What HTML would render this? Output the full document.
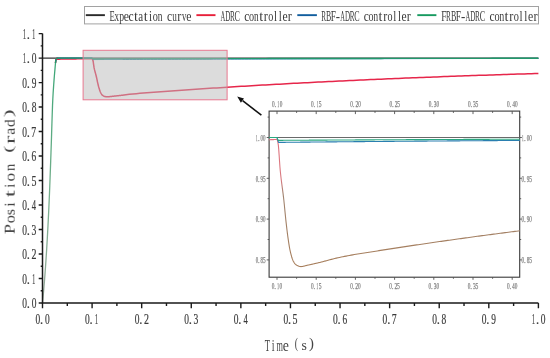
<!DOCTYPE html>
<html><head><meta charset="utf-8"><style>
html,body{margin:0;padding:0;background:#fff;}
svg{display:block;}
.tx{filter:grayscale(1);}
text{font-family:"Liberation Mono", monospace;}
</style></head><body>
<svg width="550" height="358" viewBox="0 0 550 358">
<defs><linearGradient id="gr" gradientUnits="userSpaceOnUse" x1="0" y1="58" x2="0" y2="303">
<stop offset="0" stop-color="#3aa676"/><stop offset="0.5" stop-color="#70ae8a"/><stop offset="1" stop-color="#9aaa9c"/></linearGradient><linearGradient id="rg" gradientUnits="userSpaceOnUse" x1="0" y1="137" x2="0" y2="280">
<stop offset="0" stop-color="#e0707e"/><stop offset="0.30" stop-color="#d87a80"/><stop offset="0.40" stop-color="#a08470"/><stop offset="1" stop-color="#a87c56"/></linearGradient></defs>
<rect width="550" height="358" fill="#fff"/>
<!-- legend -->
<rect x="84.5" y="6.5" width="454" height="17.4" fill="#fff" stroke="#a2a2a2" stroke-width="1"/>
<g stroke-width="1.9" fill="none">
<path d="M85.8,15.15H104.9" stroke="#2a2a2a"/>
<path d="M196.4,15.15H215.5" stroke="#e8203a"/>
<path d="M297.3,15.15H316.9" stroke="#125e9e"/>
<path d="M417.3,15.15H436.4" stroke="#179a60"/>
</g>
<g fill="#3a3a3a" class="tx">
<text x="109.42" y="20.60" font-size="14.50" textLength="5.35" lengthAdjust="spacingAndGlyphs" style='font-family:"Liberation Serif", serif'>E</text><text x="114.57" y="20.60" font-size="14.50" textLength="4.51" lengthAdjust="spacingAndGlyphs" style='font-family:"Liberation Serif", serif'>x</text><text x="119.30" y="20.60" font-size="14.50" textLength="4.86" lengthAdjust="spacingAndGlyphs" style='font-family:"Liberation Serif", serif'>p</text><text x="123.80" y="20.60" font-size="14.50" textLength="5.19" lengthAdjust="spacingAndGlyphs" style='font-family:"Liberation Serif", serif'>e</text><text x="128.62" y="20.60" font-size="14.50" textLength="5.12" lengthAdjust="spacingAndGlyphs" style='font-family:"Liberation Serif", serif'>c</text><text x="134.02" y="20.60" font-size="14.50" textLength="3.97" lengthAdjust="spacingAndGlyphs" style='font-family:"Liberation Serif", serif'>t</text><text x="138.29" y="20.60" font-size="14.50" textLength="4.86" lengthAdjust="spacingAndGlyphs" style='font-family:"Liberation Serif", serif'>a</text><text x="143.63" y="20.60" font-size="14.50" textLength="3.97" lengthAdjust="spacingAndGlyphs" style='font-family:"Liberation Serif", serif'>t</text><text x="148.89" y="20.60" font-size="14.50" textLength="3.09" lengthAdjust="spacingAndGlyphs" style='font-family:"Liberation Serif", serif'>i</text><text x="152.70" y="20.60" font-size="14.50" textLength="5.10" lengthAdjust="spacingAndGlyphs" style='font-family:"Liberation Serif", serif'>o</text><text x="157.68" y="20.60" font-size="14.50" textLength="4.68" lengthAdjust="spacingAndGlyphs" style='font-family:"Liberation Serif", serif'>n</text><text x="167.07" y="20.60" font-size="14.50" textLength="5.12" lengthAdjust="spacingAndGlyphs" style='font-family:"Liberation Serif", serif'>c</text><text x="172.20" y="20.60" font-size="14.50" textLength="4.60" lengthAdjust="spacingAndGlyphs" style='font-family:"Liberation Serif", serif'>u</text><text x="177.16" y="20.60" font-size="14.50" textLength="4.10" lengthAdjust="spacingAndGlyphs" style='font-family:"Liberation Serif", serif'>r</text><text x="181.93" y="20.60" font-size="14.50" textLength="4.33" lengthAdjust="spacingAndGlyphs" style='font-family:"Liberation Serif", serif'>v</text><text x="186.28" y="20.60" font-size="14.50" textLength="5.19" lengthAdjust="spacingAndGlyphs" style='font-family:"Liberation Serif", serif'>e</text>
<text x="220.51" y="20.60" font-size="14.50" textLength="4.75" lengthAdjust="spacingAndGlyphs" style='font-family:"Liberation Serif", serif'>A</text><text x="225.15" y="20.60" font-size="14.50" textLength="5.13" lengthAdjust="spacingAndGlyphs" style='font-family:"Liberation Serif", serif'>D</text><text x="229.92" y="20.60" font-size="14.50" textLength="4.86" lengthAdjust="spacingAndGlyphs" style='font-family:"Liberation Serif", serif'>R</text><text x="234.58" y="20.60" font-size="14.50" textLength="5.42" lengthAdjust="spacingAndGlyphs" style='font-family:"Liberation Serif", serif'>C</text><text x="244.20" y="20.60" font-size="14.50" textLength="5.09" lengthAdjust="spacingAndGlyphs" style='font-family:"Liberation Serif", serif'>c</text><text x="249.03" y="20.60" font-size="14.50" textLength="5.08" lengthAdjust="spacingAndGlyphs" style='font-family:"Liberation Serif", serif'>o</text><text x="253.99" y="20.60" font-size="14.50" textLength="4.66" lengthAdjust="spacingAndGlyphs" style='font-family:"Liberation Serif", serif'>n</text><text x="259.13" y="20.60" font-size="14.50" textLength="3.95" lengthAdjust="spacingAndGlyphs" style='font-family:"Liberation Serif", serif'>t</text><text x="263.80" y="20.60" font-size="14.50" textLength="4.08" lengthAdjust="spacingAndGlyphs" style='font-family:"Liberation Serif", serif'>r</text><text x="268.15" y="20.60" font-size="14.50" textLength="5.08" lengthAdjust="spacingAndGlyphs" style='font-family:"Liberation Serif", serif'>o</text><text x="273.93" y="20.60" font-size="14.50" textLength="3.07" lengthAdjust="spacingAndGlyphs" style='font-family:"Liberation Serif", serif'>l</text><text x="278.71" y="20.60" font-size="14.50" textLength="3.07" lengthAdjust="spacingAndGlyphs" style='font-family:"Liberation Serif", serif'>l</text><text x="282.42" y="20.60" font-size="14.50" textLength="5.16" lengthAdjust="spacingAndGlyphs" style='font-family:"Liberation Serif", serif'>e</text><text x="287.70" y="20.60" font-size="14.50" textLength="4.08" lengthAdjust="spacingAndGlyphs" style='font-family:"Liberation Serif", serif'>r</text>
<text x="321.26" y="20.60" font-size="14.50" textLength="4.81" lengthAdjust="spacingAndGlyphs" style='font-family:"Liberation Serif", serif'>R</text><text x="325.98" y="20.60" font-size="14.50" textLength="5.19" lengthAdjust="spacingAndGlyphs" style='font-family:"Liberation Serif", serif'>B</text><text x="330.66" y="20.60" font-size="14.50" textLength="5.20" lengthAdjust="spacingAndGlyphs" style='font-family:"Liberation Serif", serif'>F</text><text x="335.83" y="20.60" font-size="14.50" textLength="4.25" lengthAdjust="spacingAndGlyphs" style='font-family:"Liberation Serif", serif'>-</text><text x="340.33" y="20.60" font-size="14.50" textLength="4.70" lengthAdjust="spacingAndGlyphs" style='font-family:"Liberation Serif", serif'>A</text><text x="344.93" y="20.60" font-size="14.50" textLength="5.07" lengthAdjust="spacingAndGlyphs" style='font-family:"Liberation Serif", serif'>D</text><text x="349.65" y="20.60" font-size="14.50" textLength="4.81" lengthAdjust="spacingAndGlyphs" style='font-family:"Liberation Serif", serif'>R</text><text x="354.26" y="20.60" font-size="14.50" textLength="5.36" lengthAdjust="spacingAndGlyphs" style='font-family:"Liberation Serif", serif'>C</text><text x="363.79" y="20.60" font-size="14.50" textLength="5.04" lengthAdjust="spacingAndGlyphs" style='font-family:"Liberation Serif", serif'>c</text><text x="368.57" y="20.60" font-size="14.50" textLength="5.02" lengthAdjust="spacingAndGlyphs" style='font-family:"Liberation Serif", serif'>o</text><text x="373.47" y="20.60" font-size="14.50" textLength="4.61" lengthAdjust="spacingAndGlyphs" style='font-family:"Liberation Serif", serif'>n</text><text x="378.56" y="20.60" font-size="14.50" textLength="3.91" lengthAdjust="spacingAndGlyphs" style='font-family:"Liberation Serif", serif'>t</text><text x="383.19" y="20.60" font-size="14.50" textLength="4.04" lengthAdjust="spacingAndGlyphs" style='font-family:"Liberation Serif", serif'>r</text><text x="387.50" y="20.60" font-size="14.50" textLength="5.02" lengthAdjust="spacingAndGlyphs" style='font-family:"Liberation Serif", serif'>o</text><text x="393.22" y="20.60" font-size="14.50" textLength="3.04" lengthAdjust="spacingAndGlyphs" style='font-family:"Liberation Serif", serif'>l</text><text x="397.95" y="20.60" font-size="14.50" textLength="3.04" lengthAdjust="spacingAndGlyphs" style='font-family:"Liberation Serif", serif'>l</text><text x="401.62" y="20.60" font-size="14.50" textLength="5.11" lengthAdjust="spacingAndGlyphs" style='font-family:"Liberation Serif", serif'>e</text><text x="406.85" y="20.60" font-size="14.50" textLength="4.04" lengthAdjust="spacingAndGlyphs" style='font-family:"Liberation Serif", serif'>r</text>
<text x="441.20" y="20.60" font-size="14.50" textLength="5.30" lengthAdjust="spacingAndGlyphs" style='font-family:"Liberation Serif", serif'>F</text><text x="446.09" y="20.60" font-size="14.50" textLength="4.91" lengthAdjust="spacingAndGlyphs" style='font-family:"Liberation Serif", serif'>R</text><text x="450.90" y="20.60" font-size="14.50" textLength="5.30" lengthAdjust="spacingAndGlyphs" style='font-family:"Liberation Serif", serif'>B</text><text x="455.69" y="20.60" font-size="14.50" textLength="5.30" lengthAdjust="spacingAndGlyphs" style='font-family:"Liberation Serif", serif'>F</text><text x="460.96" y="20.60" font-size="14.50" textLength="4.33" lengthAdjust="spacingAndGlyphs" style='font-family:"Liberation Serif", serif'>-</text><text x="465.56" y="20.60" font-size="14.50" textLength="4.80" lengthAdjust="spacingAndGlyphs" style='font-family:"Liberation Serif", serif'>A</text><text x="470.25" y="20.60" font-size="14.50" textLength="5.18" lengthAdjust="spacingAndGlyphs" style='font-family:"Liberation Serif", serif'>D</text><text x="475.07" y="20.60" font-size="14.50" textLength="4.91" lengthAdjust="spacingAndGlyphs" style='font-family:"Liberation Serif", serif'>R</text><text x="479.78" y="20.60" font-size="14.50" textLength="5.47" lengthAdjust="spacingAndGlyphs" style='font-family:"Liberation Serif", serif'>C</text><text x="489.50" y="20.60" font-size="14.50" textLength="5.15" lengthAdjust="spacingAndGlyphs" style='font-family:"Liberation Serif", serif'>c</text><text x="494.38" y="20.60" font-size="14.50" textLength="5.13" lengthAdjust="spacingAndGlyphs" style='font-family:"Liberation Serif", serif'>o</text><text x="499.39" y="20.60" font-size="14.50" textLength="4.71" lengthAdjust="spacingAndGlyphs" style='font-family:"Liberation Serif", serif'>n</text><text x="504.58" y="20.60" font-size="14.50" textLength="3.99" lengthAdjust="spacingAndGlyphs" style='font-family:"Liberation Serif", serif'>t</text><text x="509.30" y="20.60" font-size="14.50" textLength="4.12" lengthAdjust="spacingAndGlyphs" style='font-family:"Liberation Serif", serif'>r</text><text x="513.70" y="20.60" font-size="14.50" textLength="5.13" lengthAdjust="spacingAndGlyphs" style='font-family:"Liberation Serif", serif'>o</text><text x="519.54" y="20.60" font-size="14.50" textLength="3.10" lengthAdjust="spacingAndGlyphs" style='font-family:"Liberation Serif", serif'>l</text><text x="524.37" y="20.60" font-size="14.50" textLength="3.10" lengthAdjust="spacingAndGlyphs" style='font-family:"Liberation Serif", serif'>l</text><text x="528.12" y="20.60" font-size="14.50" textLength="5.21" lengthAdjust="spacingAndGlyphs" style='font-family:"Liberation Serif", serif'>e</text><text x="533.45" y="20.60" font-size="14.50" textLength="4.12" lengthAdjust="spacingAndGlyphs" style='font-family:"Liberation Serif", serif'>r</text>
</g>
<!-- curves main -->
<g fill="none" stroke-linejoin="round">
<path d="M42.5,58.10H538.40" stroke="#333" stroke-width="1.4"/>
<polyline points="42.50,302.95 42.80,299.90 43.11,296.70 43.41,293.37 43.71,289.90 44.02,286.31 44.32,282.61 44.63,278.79 44.93,274.85 45.23,270.77 45.54,266.55 45.84,262.15 46.14,257.58 46.45,252.83 46.75,247.86 47.05,242.71 47.36,237.34 47.66,231.77 47.97,225.99 48.27,219.98 48.57,213.74 48.88,207.27 49.18,200.55 49.48,193.43 49.79,185.78 50.09,177.73 50.39,169.39 50.70,160.87 51.00,152.31 51.30,143.43 51.61,133.71 51.91,123.73 52.22,114.16 52.52,105.64 52.82,98.82 53.13,93.33 53.43,88.59 53.73,84.27 54.04,80.15 54.34,76.32 54.64,72.74 54.95,69.36 55.25,65.75 55.56,62.39 55.86,60.22 56.16,59.27 56.47,58.64 56.77,58.33 57.07,58.17 57.38,58.10" stroke="url(#gr)" stroke-width="1.3"/>
<polyline points="55.49,63.02 55.76,60.73 56.03,59.65 56.30,58.95 56.57,58.50 56.84,58.29 57.11,58.15 57.38,59.20 57.43,59.20 59.25,59.14 61.08,59.09 62.90,59.04 64.72,59.00 66.55,58.97 68.37,58.94 70.20,58.93 72.02,58.91 73.85,58.90 75.67,58.88 77.49,58.87 79.32,58.86 81.14,58.84 82.97,58.83 84.79,58.80 86.62,58.77 88.44,58.74 90.27,58.72 92.09,58.71 92.19,58.75 92.56,59.37 92.94,60.41 93.32,62.49 93.69,65.20 94.07,67.65 94.44,69.40 94.82,70.92 95.19,72.31 95.57,73.64 95.94,75.01 96.32,76.49 96.69,78.16 97.07,79.97 97.44,81.78 97.82,83.45 98.20,85.02 98.57,86.52 98.95,87.88 99.32,89.10 99.70,90.26 100.07,91.32 100.45,92.23 100.82,92.95 101.20,93.62 101.57,94.21 101.95,94.73 102.32,95.15 102.70,95.46 103.08,95.73 103.45,95.96 103.83,96.15 104.20,96.31 104.58,96.43 104.95,96.52 105.33,96.60 105.70,96.68 106.08,96.74 106.45,96.79 106.83,96.82 107.20,96.84 107.58,96.83 107.96,96.81 108.33,96.78 108.71,96.75 109.08,96.70 109.46,96.66 109.83,96.61 110.21,96.56 110.58,96.51 110.96,96.47 111.33,96.43 111.71,96.39 112.08,96.35 112.46,96.31 112.83,96.27 113.21,96.23 113.59,96.19 113.96,96.16 114.34,96.12 114.71,96.08 115.09,96.04 115.46,96.00 115.84,95.96 116.21,95.92 116.59,95.87 116.96,95.83 117.34,95.79 117.71,95.75 118.09,95.71 118.47,95.67 118.84,95.62 119.22,95.58 119.59,95.54 119.97,95.49 120.34,95.45 120.72,95.40 121.09,95.36 121.47,95.31 121.84,95.26 122.34,95.20 125.84,94.75 129.33,94.33 132.83,93.97 136.33,93.64 139.82,93.33 143.32,93.04 146.81,92.77 150.31,92.52 153.81,92.26 157.30,92.00 160.80,91.74 164.30,91.48 167.79,91.23 171.29,90.98 174.78,90.73 178.28,90.48 181.78,90.23 185.27,89.99 188.77,89.75 192.27,89.51 195.76,89.27 199.26,89.04 202.75,88.80 206.25,88.57 209.75,88.34 213.24,88.11 216.74,87.89 220.24,87.66 223.73,87.44 227.23,87.22 230.73,87.00 234.22,86.78 237.72,86.57 241.21,86.36 244.71,86.15 248.21,85.94 251.70,85.73 255.20,85.52 258.70,85.32 262.19,85.12 265.69,84.91 269.18,84.72 272.68,84.52 276.18,84.32 279.67,84.13 283.17,83.94 286.67,83.74 290.16,83.56 293.66,83.37 297.16,83.18 300.65,83.00 304.15,82.81 307.64,82.63 311.14,82.45 314.64,82.27 318.13,82.10 321.63,81.92 325.13,81.75 328.62,81.57 332.12,81.40 335.61,81.23 339.11,81.06 342.61,80.90 346.10,80.73 349.60,80.57 353.10,80.41 356.59,80.24 360.09,80.08 363.58,79.93 367.08,79.77 370.58,79.61 374.07,79.46 377.57,79.30 381.07,79.15 384.56,79.00 388.06,78.85 391.56,78.70 395.05,78.56 398.55,78.41 402.04,78.27 405.54,78.12 409.04,77.98 412.53,77.84 416.03,77.70 419.53,77.56 423.02,77.42 426.52,77.29 430.01,77.15 433.51,77.02 437.01,76.88 440.50,76.75 444.00,76.62 447.50,76.49 450.99,76.36 454.49,76.24 457.99,76.11 461.48,75.98 464.98,75.86 468.47,75.74 471.97,75.61 475.47,75.49 478.96,75.37 482.46,75.25 485.96,75.14 489.45,75.02 492.95,74.90 496.44,74.79 499.94,74.67 503.44,74.56 506.93,74.45 510.43,74.34 513.93,74.22 517.42,74.12 520.92,74.01 524.41,73.90 527.91,73.79 531.41,73.69 534.90,73.58 538.40,73.48" stroke="#e6264a" stroke-width="1.5"/>
<polyline points="55.49,63.02 55.76,60.73 56.03,59.65 56.30,58.95 56.57,58.50 56.84,58.29 57.11,58.15 57.38,58.10 57.43,58.10 59.25,58.10 61.08,58.10 62.90,58.10 64.72,58.10 66.55,58.10 68.37,58.10 70.20,58.10 72.02,58.10 73.85,58.10 75.67,58.10 77.49,58.10 79.32,58.10 81.14,58.10 82.97,58.10 84.79,58.10 86.62,58.10 88.44,58.10 90.27,58.10 92.09,58.10 92.19,58.25 92.56,58.80 92.94,59.36 93.32,59.57 93.69,59.57 94.07,59.56 94.44,59.56 94.82,59.56 95.19,59.56 95.57,59.56 95.94,59.56 96.32,59.55 96.69,59.55 97.07,59.55 97.44,59.55 97.82,59.55 98.20,59.54 98.57,59.54 98.95,59.54 99.32,59.54 99.70,59.54 100.07,59.53 100.45,59.53 100.82,59.53 101.20,59.53 101.57,59.53 101.95,59.53 102.32,59.52 102.70,59.52 103.08,59.52 103.45,59.52 103.83,59.52 104.20,59.52 104.58,59.51 104.95,59.51 105.33,59.51 105.70,59.51 106.08,59.51 106.45,59.50 106.83,59.50 107.20,59.50 107.58,59.50 107.96,59.50 108.33,59.50 108.71,59.49 109.08,59.49 109.46,59.49 109.83,59.49 110.21,59.49 110.58,59.49 110.96,59.48 111.33,59.48 111.71,59.48 112.08,59.48 112.46,59.48 112.83,59.47 113.21,59.47 113.59,59.47 113.96,59.47 114.34,59.47 114.71,59.47 115.09,59.46 115.46,59.46 115.84,59.46 116.21,59.46 116.59,59.46 116.96,59.46 117.34,59.45 117.71,59.45 118.09,59.45 118.47,59.45 118.84,59.45 119.22,59.45 119.59,59.44 119.97,59.44 120.34,59.44 120.72,59.44 121.09,59.44 121.47,59.44 121.84,59.43 122.34,59.43 125.84,59.42 129.33,59.40 132.83,59.39 136.33,59.37 139.82,59.36 143.32,59.34 146.81,59.33 150.31,59.31 153.81,59.30 157.30,59.28 160.80,59.27 164.30,59.26 167.79,59.24 171.29,59.23 174.78,59.22 178.28,59.20 181.78,59.19 185.27,59.18 188.77,59.17 192.27,59.15 195.76,59.14 199.26,59.13 202.75,59.12 206.25,59.10 209.75,59.09 213.24,59.08 216.74,59.07 220.24,59.06 223.73,59.05 227.23,59.04 230.73,59.03 234.22,59.01 237.72,59.00 241.21,58.99 244.71,58.98 248.21,58.97 251.70,58.96 255.20,58.95 258.70,58.94 262.19,58.93 265.69,58.92 269.18,58.91 272.68,58.90 276.18,58.89 279.67,58.88 283.17,58.88 286.67,58.87 290.16,58.86 293.66,58.85 297.16,58.84 300.65,58.83 304.15,58.82 307.64,58.81 311.14,58.81 314.64,58.80 318.13,58.79 321.63,58.78 325.13,58.77 328.62,58.77 332.12,58.76 335.61,58.75 339.11,58.74 342.61,58.74 346.10,58.73 349.60,58.72 353.10,58.71 356.59,58.71 360.09,58.70 363.58,58.69 367.08,58.68 370.58,58.68 374.07,58.67 377.57,58.66 381.07,58.66 384.56,58.65 388.06,58.65 391.56,58.64 395.05,58.63 398.55,58.63 402.04,58.62 405.54,58.61 409.04,58.61 412.53,58.60 416.03,58.60 419.53,58.59 423.02,58.58 426.52,58.58 430.01,58.57 433.51,58.57 437.01,58.56 440.50,58.56 444.00,58.55 447.50,58.55 450.99,58.54 454.49,58.54 457.99,58.53 461.48,58.53 464.98,58.52 468.47,58.52 471.97,58.51 475.47,58.51 478.96,58.50 482.46,58.50 485.96,58.49 489.45,58.49 492.95,58.48 496.44,58.48 499.94,58.47 503.44,58.47 506.93,58.47 510.43,58.46 513.93,58.46 517.42,58.45 520.92,58.45 524.41,58.44 527.91,58.44 531.41,58.44 534.90,58.43 538.40,58.43" stroke="#1662b8" stroke-width="1.0"/>
<polyline points="55.49,63.02 55.76,60.73 56.03,59.65 56.30,58.95 56.57,58.50 56.84,58.29 57.11,58.15 57.38,58.10 57.43,58.10 59.25,58.10 61.08,58.10 62.90,58.10 64.72,58.10 66.55,58.10 68.37,58.10 70.20,58.10 72.02,58.10 73.85,58.10 75.67,58.10 77.49,58.10 79.32,58.10 81.14,58.10 82.97,58.10 84.79,58.10 86.62,58.10 88.44,58.10 90.27,58.10 92.09,58.10 92.19,58.21 92.56,58.65 92.94,58.96 93.32,58.96 93.69,58.95 94.07,58.95 94.44,58.95 94.82,58.95 95.19,58.95 95.57,58.95 95.94,58.95 96.32,58.95 96.69,58.95 97.07,58.94 97.44,58.94 97.82,58.94 98.20,58.94 98.57,58.94 98.95,58.94 99.32,58.94 99.70,58.94 100.07,58.94 100.45,58.94 100.82,58.93 101.20,58.93 101.57,58.93 101.95,58.93 102.32,58.93 102.70,58.93 103.08,58.93 103.45,58.93 103.83,58.93 104.20,58.92 104.58,58.92 104.95,58.92 105.33,58.92 105.70,58.92 106.08,58.92 106.45,58.92 106.83,58.92 107.20,58.92 107.58,58.92 107.96,58.91 108.33,58.91 108.71,58.91 109.08,58.91 109.46,58.91 109.83,58.91 110.21,58.91 110.58,58.91 110.96,58.91 111.33,58.91 111.71,58.90 112.08,58.90 112.46,58.90 112.83,58.90 113.21,58.90 113.59,58.90 113.96,58.90 114.34,58.90 114.71,58.90 115.09,58.90 115.46,58.89 115.84,58.89 116.21,58.89 116.59,58.89 116.96,58.89 117.34,58.89 117.71,58.89 118.09,58.89 118.47,58.89 118.84,58.89 119.22,58.88 119.59,58.88 119.97,58.88 120.34,58.88 120.72,58.88 121.09,58.88 121.47,58.88 121.84,58.88 122.34,58.88 125.84,58.87 129.33,58.86 132.83,58.85 136.33,58.84 139.82,58.83 143.32,58.82 146.81,58.81 150.31,58.81 153.81,58.80 157.30,58.79 160.80,58.78 164.30,58.77 167.79,58.77 171.29,58.76 174.78,58.75 178.28,58.74 181.78,58.74 185.27,58.73 188.77,58.72 192.27,58.71 195.76,58.71 199.26,58.70 202.75,58.69 206.25,58.69 209.75,58.68 213.24,58.67 216.74,58.67 220.24,58.66 223.73,58.65 227.23,58.65 230.73,58.64 234.22,58.63 237.72,58.63 241.21,58.62 244.71,58.61 248.21,58.61 251.70,58.60 255.20,58.60 258.70,58.59 262.19,58.59 265.69,58.58 269.18,58.57 272.68,58.57 276.18,58.56 279.67,58.56 283.17,58.55 286.67,58.55 290.16,58.54 293.66,58.54 297.16,58.53 300.65,58.53 304.15,58.52 307.64,58.52 311.14,58.51 314.64,58.51 318.13,58.50 321.63,58.50 325.13,58.49 328.62,58.49 332.12,58.48 335.61,58.48 339.11,58.47 342.61,58.47 346.10,58.47 349.60,58.46 353.10,58.46 356.59,58.45 360.09,58.45 363.58,58.44 367.08,58.44 370.58,58.44 374.07,58.43 377.57,58.43 381.07,58.43 384.56,58.42 388.06,58.42 391.56,58.41 395.05,58.41 398.55,58.41 402.04,58.40 405.54,58.40 409.04,58.40 412.53,58.39 416.03,58.39 419.53,58.39 423.02,58.38 426.52,58.38 430.01,58.38 433.51,58.37 437.01,58.37 440.50,58.37 444.00,58.36 447.50,58.36 450.99,58.36 454.49,58.35 457.99,58.35 461.48,58.35 464.98,58.35 468.47,58.34 471.97,58.34 475.47,58.34 478.96,58.33 482.46,58.33 485.96,58.33 489.45,58.33 492.95,58.32 496.44,58.32 499.94,58.32 503.44,58.32 506.93,58.31 510.43,58.31 513.93,58.31 517.42,58.31 520.92,58.30 524.41,58.30 527.91,58.30 531.41,58.30 534.90,58.29 538.40,58.29" stroke="#1f9a6c" stroke-width="1.4"/>
</g>
<!-- axes -->
<path d="M42.5,33.61V302.95H538.40" fill="none" stroke="#1a1a1a" stroke-width="1.5"/>
<path d="M42.50,302.95V308.15M92.09,302.95V308.15M141.68,302.95V308.15M191.27,302.95V308.15M240.86,302.95V308.15M290.45,302.95V308.15M340.04,302.95V308.15M389.63,302.95V308.15M439.22,302.95V308.15M488.81,302.95V308.15M538.40,302.95V308.15M67.30,302.95V305.95M116.89,302.95V305.95M166.47,302.95V305.95M216.06,302.95V305.95M265.65,302.95V305.95M315.25,302.95V305.95M364.83,302.95V305.95M414.42,302.95V305.95M464.02,302.95V305.95M513.61,302.95V305.95M42.50,302.95H38.70M42.50,278.46H38.70M42.50,253.98H38.70M42.50,229.50H38.70M42.50,205.01H38.70M42.50,180.52H38.70M42.50,156.04H38.70M42.50,131.56H38.70M42.50,107.07H38.70M42.50,82.58H38.70M42.50,58.10H38.70M42.50,33.61H38.70M42.50,290.71H40.70M42.50,266.22H40.70M42.50,241.74H40.70M42.50,217.25H40.70M42.50,192.77H40.70M42.50,168.28H40.70M42.50,143.80H40.70M42.50,119.31H40.70M42.50,94.83H40.70M42.50,70.34H40.70M42.50,45.86H40.70" fill="none" stroke="#1a1a1a" stroke-width="1.4"/>
<g fill="#3a3a3a" stroke="#3a3a3a" stroke-width="0.2" class="tx">
<text x="35.49" y="323.55" font-size="13.93" textLength="4.72" lengthAdjust="spacingAndGlyphs" style='font-family:"Liberation Serif", serif'>0</text><text x="40.01" y="323.55" font-size="13.93" textLength="3.17" lengthAdjust="spacingAndGlyphs" style='font-family:"Liberation Serif", serif'>.</text><text x="44.89" y="323.55" font-size="13.93" textLength="4.72" lengthAdjust="spacingAndGlyphs" style='font-family:"Liberation Serif", serif'>0</text><text x="85.08" y="323.55" font-size="13.93" textLength="4.72" lengthAdjust="spacingAndGlyphs" style='font-family:"Liberation Serif", serif'>0</text><text x="89.60" y="323.55" font-size="13.93" textLength="3.17" lengthAdjust="spacingAndGlyphs" style='font-family:"Liberation Serif", serif'>.</text><text x="95.12" y="323.55" font-size="13.93" textLength="2.98" lengthAdjust="spacingAndGlyphs" style='font-family:"Liberation Serif", serif'>1</text><text x="134.67" y="323.55" font-size="13.93" textLength="4.72" lengthAdjust="spacingAndGlyphs" style='font-family:"Liberation Serif", serif'>0</text><text x="139.19" y="323.55" font-size="13.93" textLength="3.17" lengthAdjust="spacingAndGlyphs" style='font-family:"Liberation Serif", serif'>.</text><text x="143.99" y="323.55" font-size="13.93" textLength="4.99" lengthAdjust="spacingAndGlyphs" style='font-family:"Liberation Serif", serif'>2</text><text x="184.26" y="323.55" font-size="13.93" textLength="4.72" lengthAdjust="spacingAndGlyphs" style='font-family:"Liberation Serif", serif'>0</text><text x="188.78" y="323.55" font-size="13.93" textLength="3.17" lengthAdjust="spacingAndGlyphs" style='font-family:"Liberation Serif", serif'>.</text><text x="193.56" y="323.55" font-size="13.93" textLength="4.84" lengthAdjust="spacingAndGlyphs" style='font-family:"Liberation Serif", serif'>3</text><text x="233.85" y="323.55" font-size="13.93" textLength="4.72" lengthAdjust="spacingAndGlyphs" style='font-family:"Liberation Serif", serif'>0</text><text x="238.37" y="323.55" font-size="13.93" textLength="3.17" lengthAdjust="spacingAndGlyphs" style='font-family:"Liberation Serif", serif'>.</text><text x="243.44" y="323.55" font-size="13.93" textLength="4.30" lengthAdjust="spacingAndGlyphs" style='font-family:"Liberation Serif", serif'>4</text><text x="283.44" y="323.55" font-size="13.93" textLength="4.72" lengthAdjust="spacingAndGlyphs" style='font-family:"Liberation Serif", serif'>0</text><text x="287.96" y="323.55" font-size="13.93" textLength="3.17" lengthAdjust="spacingAndGlyphs" style='font-family:"Liberation Serif", serif'>.</text><text x="292.62" y="323.55" font-size="13.93" textLength="4.96" lengthAdjust="spacingAndGlyphs" style='font-family:"Liberation Serif", serif'>5</text><text x="333.03" y="323.55" font-size="13.93" textLength="4.72" lengthAdjust="spacingAndGlyphs" style='font-family:"Liberation Serif", serif'>0</text><text x="337.55" y="323.55" font-size="13.93" textLength="3.17" lengthAdjust="spacingAndGlyphs" style='font-family:"Liberation Serif", serif'>.</text><text x="342.39" y="323.55" font-size="13.93" textLength="4.68" lengthAdjust="spacingAndGlyphs" style='font-family:"Liberation Serif", serif'>6</text><text x="382.62" y="323.55" font-size="13.93" textLength="4.72" lengthAdjust="spacingAndGlyphs" style='font-family:"Liberation Serif", serif'>0</text><text x="387.14" y="323.55" font-size="13.93" textLength="3.17" lengthAdjust="spacingAndGlyphs" style='font-family:"Liberation Serif", serif'>.</text><text x="391.73" y="323.55" font-size="13.93" textLength="4.93" lengthAdjust="spacingAndGlyphs" style='font-family:"Liberation Serif", serif'>7</text><text x="432.21" y="323.55" font-size="13.93" textLength="4.72" lengthAdjust="spacingAndGlyphs" style='font-family:"Liberation Serif", serif'>0</text><text x="436.73" y="323.55" font-size="13.93" textLength="3.17" lengthAdjust="spacingAndGlyphs" style='font-family:"Liberation Serif", serif'>.</text><text x="441.61" y="323.55" font-size="13.93" textLength="4.72" lengthAdjust="spacingAndGlyphs" style='font-family:"Liberation Serif", serif'>8</text><text x="481.80" y="323.55" font-size="13.93" textLength="4.72" lengthAdjust="spacingAndGlyphs" style='font-family:"Liberation Serif", serif'>0</text><text x="486.32" y="323.55" font-size="13.93" textLength="3.17" lengthAdjust="spacingAndGlyphs" style='font-family:"Liberation Serif", serif'>.</text><text x="491.26" y="323.55" font-size="13.93" textLength="4.69" lengthAdjust="spacingAndGlyphs" style='font-family:"Liberation Serif", serif'>9</text><text x="532.03" y="323.55" font-size="13.93" textLength="2.98" lengthAdjust="spacingAndGlyphs" style='font-family:"Liberation Serif", serif'>1</text><text x="535.91" y="323.55" font-size="13.93" textLength="3.17" lengthAdjust="spacingAndGlyphs" style='font-family:"Liberation Serif", serif'>.</text><text x="540.79" y="323.55" font-size="13.93" textLength="4.72" lengthAdjust="spacingAndGlyphs" style='font-family:"Liberation Serif", serif'>0</text>
<text x="22.24" y="308.10" font-size="14.08" textLength="4.72" lengthAdjust="spacingAndGlyphs" style='font-family:"Liberation Serif", serif'>0</text><text x="26.76" y="308.10" font-size="14.08" textLength="3.17" lengthAdjust="spacingAndGlyphs" style='font-family:"Liberation Serif", serif'>.</text><text x="31.64" y="308.10" font-size="14.08" textLength="4.72" lengthAdjust="spacingAndGlyphs" style='font-family:"Liberation Serif", serif'>0</text><text x="22.24" y="283.61" font-size="14.08" textLength="4.72" lengthAdjust="spacingAndGlyphs" style='font-family:"Liberation Serif", serif'>0</text><text x="26.76" y="283.61" font-size="14.08" textLength="3.17" lengthAdjust="spacingAndGlyphs" style='font-family:"Liberation Serif", serif'>.</text><text x="32.28" y="283.61" font-size="14.08" textLength="2.98" lengthAdjust="spacingAndGlyphs" style='font-family:"Liberation Serif", serif'>1</text><text x="22.24" y="259.13" font-size="14.08" textLength="4.72" lengthAdjust="spacingAndGlyphs" style='font-family:"Liberation Serif", serif'>0</text><text x="26.76" y="259.13" font-size="14.08" textLength="3.17" lengthAdjust="spacingAndGlyphs" style='font-family:"Liberation Serif", serif'>.</text><text x="31.56" y="259.13" font-size="14.08" textLength="4.99" lengthAdjust="spacingAndGlyphs" style='font-family:"Liberation Serif", serif'>2</text><text x="22.24" y="234.65" font-size="14.08" textLength="4.72" lengthAdjust="spacingAndGlyphs" style='font-family:"Liberation Serif", serif'>0</text><text x="26.76" y="234.65" font-size="14.08" textLength="3.17" lengthAdjust="spacingAndGlyphs" style='font-family:"Liberation Serif", serif'>.</text><text x="31.54" y="234.65" font-size="14.08" textLength="4.84" lengthAdjust="spacingAndGlyphs" style='font-family:"Liberation Serif", serif'>3</text><text x="22.24" y="210.16" font-size="14.08" textLength="4.72" lengthAdjust="spacingAndGlyphs" style='font-family:"Liberation Serif", serif'>0</text><text x="26.76" y="210.16" font-size="14.08" textLength="3.17" lengthAdjust="spacingAndGlyphs" style='font-family:"Liberation Serif", serif'>.</text><text x="31.83" y="210.16" font-size="14.08" textLength="4.30" lengthAdjust="spacingAndGlyphs" style='font-family:"Liberation Serif", serif'>4</text><text x="22.24" y="185.67" font-size="14.08" textLength="4.72" lengthAdjust="spacingAndGlyphs" style='font-family:"Liberation Serif", serif'>0</text><text x="26.76" y="185.67" font-size="14.08" textLength="3.17" lengthAdjust="spacingAndGlyphs" style='font-family:"Liberation Serif", serif'>.</text><text x="31.42" y="185.67" font-size="14.08" textLength="4.96" lengthAdjust="spacingAndGlyphs" style='font-family:"Liberation Serif", serif'>5</text><text x="22.24" y="161.19" font-size="14.08" textLength="4.72" lengthAdjust="spacingAndGlyphs" style='font-family:"Liberation Serif", serif'>0</text><text x="26.76" y="161.19" font-size="14.08" textLength="3.17" lengthAdjust="spacingAndGlyphs" style='font-family:"Liberation Serif", serif'>.</text><text x="31.60" y="161.19" font-size="14.08" textLength="4.68" lengthAdjust="spacingAndGlyphs" style='font-family:"Liberation Serif", serif'>6</text><text x="22.24" y="136.71" font-size="14.08" textLength="4.72" lengthAdjust="spacingAndGlyphs" style='font-family:"Liberation Serif", serif'>0</text><text x="26.76" y="136.71" font-size="14.08" textLength="3.17" lengthAdjust="spacingAndGlyphs" style='font-family:"Liberation Serif", serif'>.</text><text x="31.35" y="136.71" font-size="14.08" textLength="4.93" lengthAdjust="spacingAndGlyphs" style='font-family:"Liberation Serif", serif'>7</text><text x="22.24" y="112.22" font-size="14.08" textLength="4.72" lengthAdjust="spacingAndGlyphs" style='font-family:"Liberation Serif", serif'>0</text><text x="26.76" y="112.22" font-size="14.08" textLength="3.17" lengthAdjust="spacingAndGlyphs" style='font-family:"Liberation Serif", serif'>.</text><text x="31.64" y="112.22" font-size="14.08" textLength="4.72" lengthAdjust="spacingAndGlyphs" style='font-family:"Liberation Serif", serif'>8</text><text x="22.24" y="87.73" font-size="14.08" textLength="4.72" lengthAdjust="spacingAndGlyphs" style='font-family:"Liberation Serif", serif'>0</text><text x="26.76" y="87.73" font-size="14.08" textLength="3.17" lengthAdjust="spacingAndGlyphs" style='font-family:"Liberation Serif", serif'>.</text><text x="31.70" y="87.73" font-size="14.08" textLength="4.69" lengthAdjust="spacingAndGlyphs" style='font-family:"Liberation Serif", serif'>9</text><text x="22.88" y="63.25" font-size="14.08" textLength="2.98" lengthAdjust="spacingAndGlyphs" style='font-family:"Liberation Serif", serif'>1</text><text x="26.76" y="63.25" font-size="14.08" textLength="3.17" lengthAdjust="spacingAndGlyphs" style='font-family:"Liberation Serif", serif'>.</text><text x="31.64" y="63.25" font-size="14.08" textLength="4.72" lengthAdjust="spacingAndGlyphs" style='font-family:"Liberation Serif", serif'>0</text><text x="22.88" y="38.76" font-size="14.08" textLength="2.98" lengthAdjust="spacingAndGlyphs" style='font-family:"Liberation Serif", serif'>1</text><text x="26.76" y="38.76" font-size="14.08" textLength="3.17" lengthAdjust="spacingAndGlyphs" style='font-family:"Liberation Serif", serif'>.</text><text x="32.28" y="38.76" font-size="14.08" textLength="2.98" lengthAdjust="spacingAndGlyphs" style='font-family:"Liberation Serif", serif'>1</text>
</g>
<!-- axis titles -->
<g fill="#444" class="tx">
<text x="264.64" y="350.60" font-size="17.30" textLength="5.30" lengthAdjust="spacingAndGlyphs" style='font-family:"Liberation Serif", serif'>T</text>
<text x="271.79" y="350.60" font-size="17.30" textLength="2.80" lengthAdjust="spacingAndGlyphs" style='font-family:"Liberation Serif", serif'>i</text>
<text x="276.43" y="350.60" font-size="17.30" textLength="6.40" lengthAdjust="spacingAndGlyphs" style='font-family:"Liberation Serif", serif'>m</text>
<text x="282.66" y="350.60" font-size="17.30" textLength="6.12" lengthAdjust="spacingAndGlyphs" style='font-family:"Liberation Serif", serif'>e</text>
<text x="294.67" y="348.30" font-size="14.45" textLength="3.24" lengthAdjust="spacingAndGlyphs" style='font-family:"Liberation Serif", serif'>(</text>
<text x="301.43" y="350.40" font-size="15.20" textLength="5.36" lengthAdjust="spacingAndGlyphs" style='font-family:"Liberation Serif", serif'>s</text>
<text x="309.12" y="348.30" font-size="14.45" textLength="4.93" lengthAdjust="spacingAndGlyphs" style='font-family:"Liberation Serif", serif'>)</text>
<g transform="translate(14.7,240) rotate(-90)">
<text x="6.08" y="0.00" font-size="13.60" textLength="10.04" lengthAdjust="spacingAndGlyphs" style='font-family:"Liberation Serif", serif'>P</text>
<text x="16.68" y="0.00" font-size="13.60" textLength="8.14" lengthAdjust="spacingAndGlyphs" style='font-family:"Liberation Serif", serif'>o</text>
<text x="24.84" y="0.00" font-size="13.60" textLength="6.24" lengthAdjust="spacingAndGlyphs" style='font-family:"Liberation Serif", serif'>s</text>
<text x="33.36" y="0.00" font-size="13.60" textLength="4.44" lengthAdjust="spacingAndGlyphs" style='font-family:"Liberation Serif", serif'>i</text>
<text x="42.85" y="0.00" font-size="13.60" textLength="7.10" lengthAdjust="spacingAndGlyphs" style='font-family:"Liberation Serif", serif'>t</text>
<text x="52.30" y="0.00" font-size="13.60" textLength="3.97" lengthAdjust="spacingAndGlyphs" style='font-family:"Liberation Serif", serif'>i</text>
<text x="58.64" y="0.00" font-size="13.60" textLength="8.61" lengthAdjust="spacingAndGlyphs" style='font-family:"Liberation Serif", serif'>o</text>
<text x="69.07" y="0.00" font-size="13.60" textLength="7.25" lengthAdjust="spacingAndGlyphs" style='font-family:"Liberation Serif", serif'>n</text>
<text x="87.18" y="-1.84" font-size="11.90" textLength="7.00" lengthAdjust="spacingAndGlyphs" style='font-family:"Liberation Serif", serif'>(</text>
<text x="95.99" y="0.00" font-size="13.60" textLength="8.43" lengthAdjust="spacingAndGlyphs" style='font-family:"Liberation Serif", serif'>r</text>
<text x="105.25" y="0.00" font-size="13.60" textLength="6.97" lengthAdjust="spacingAndGlyphs" style='font-family:"Liberation Serif", serif'>a</text>
<text x="112.95" y="0.00" font-size="13.60" textLength="7.64" lengthAdjust="spacingAndGlyphs" style='font-family:"Liberation Serif", serif'>d</text>
<text x="122.73" y="-1.84" font-size="11.90" textLength="7.91" lengthAdjust="spacingAndGlyphs" style='font-family:"Liberation Serif", serif'>)</text>
</g>
</g>
<!-- zoom rect -->
<rect x="83.1" y="50.3" width="144" height="49.5" fill="rgba(185,185,185,0.5)" stroke="#e87890" stroke-width="1"/>
<!-- arrow -->
<path d="M261.4,115.1L242.6,100.7" stroke="#111" stroke-width="1.6" fill="none"/>
<path d="M237.2,96.6L244.0,98.6L240.9,102.7Z" fill="#111"/>
<!-- inset -->
<rect x="269.1" y="111.1" width="250.6" height="166.1" fill="#fff" stroke="#3a3a3a" stroke-width="1.1"/>
<g fill="none" stroke-linejoin="round">
<path d="M269.1,137.50H519.7" stroke="#6a6a6a" stroke-width="1.0"/>
<polyline points="269.00,139.71 269.89,139.68 270.78,139.65 271.67,139.62 272.56,139.60 273.45,139.58 274.33,139.56 275.22,139.55 276.11,139.54 277.00,139.54 277.16,139.66 277.55,140.80 277.94,142.74 278.34,145.15 278.73,149.36 279.13,154.94 279.52,161.02 279.91,166.74 280.31,171.26 280.70,175.02 281.10,178.45 281.49,181.65 281.88,184.69 282.28,187.66 282.67,190.62 283.07,193.66 283.46,196.87 283.85,200.31 284.25,204.06 284.64,208.03 285.04,212.08 285.43,216.07 285.82,219.86 286.22,223.41 286.61,226.88 287.01,230.25 287.40,233.44 287.79,236.42 288.19,239.16 288.58,241.82 288.98,244.38 289.37,246.79 289.76,249.00 290.16,250.97 290.55,252.66 290.95,254.19 291.34,255.65 291.73,257.01 292.13,258.26 292.52,259.39 292.92,260.38 293.31,261.23 293.70,261.91 294.10,262.51 294.49,263.06 294.89,263.57 295.28,264.03 295.67,264.43 296.07,264.78 296.46,265.07 296.86,265.30 297.25,265.49 297.64,265.68 298.04,265.86 298.43,266.03 298.83,266.18 299.22,266.31 299.61,266.42 300.01,266.51 300.40,266.56 300.80,266.59 301.19,266.59 301.58,266.56 301.98,266.52 302.37,266.47 302.77,266.40 303.16,266.32 303.55,266.23 303.95,266.13 304.34,266.03 304.74,265.92 305.13,265.81 305.52,265.71 305.92,265.60 306.31,265.49 306.71,265.40 307.10,265.30 307.49,265.22 307.89,265.13 308.28,265.05 308.67,264.96 309.07,264.88 309.46,264.79 309.86,264.70 310.25,264.62 310.64,264.53 311.04,264.45 311.43,264.36 311.83,264.27 312.22,264.18 312.61,264.10 313.01,264.01 313.40,263.92 313.80,263.83 314.19,263.74 314.58,263.65 314.98,263.56 315.37,263.47 315.77,263.38 316.16,263.29 316.55,263.20 316.95,263.11 317.34,263.02 317.74,262.92 318.13,262.83 318.52,262.74 318.92,262.64 319.31,262.55 319.71,262.45 320.10,262.36 320.49,262.26 320.89,262.16 321.28,262.06 321.68,261.96 322.07,261.86 322.46,261.76 322.86,261.66 323.25,261.55 323.65,261.45 324.04,261.34 324.82,261.13 326.46,260.69 328.10,260.24 329.74,259.80 331.38,259.36 333.02,258.94 334.66,258.53 336.30,258.15 337.94,257.79 339.58,257.43 341.22,257.08 342.85,256.74 344.49,256.41 346.13,256.09 347.77,255.77 349.41,255.46 351.05,255.15 352.69,254.85 354.33,254.56 355.97,254.28 357.61,254.01 359.25,253.74 360.89,253.47 362.52,253.21 364.16,252.96 365.80,252.70 367.44,252.45 369.08,252.20 370.72,251.94 372.36,251.69 374.00,251.43 375.64,251.17 377.28,250.92 378.92,250.66 380.56,250.40 382.19,250.15 383.83,249.89 385.47,249.64 387.11,249.38 388.75,249.13 390.39,248.87 392.03,248.62 393.67,248.37 395.31,248.12 396.95,247.87 398.59,247.62 400.23,247.37 401.86,247.12 403.50,246.87 405.14,246.63 406.78,246.38 408.42,246.13 410.06,245.89 411.70,245.64 413.34,245.40 414.98,245.16 416.62,244.91 418.26,244.67 419.89,244.43 421.53,244.19 423.17,243.95 424.81,243.71 426.45,243.47 428.09,243.23 429.73,242.99 431.37,242.75 433.01,242.52 434.65,242.28 436.29,242.04 437.93,241.81 439.56,241.57 441.20,241.34 442.84,241.11 444.48,240.87 446.12,240.64 447.76,240.41 449.40,240.18 451.04,239.95 452.68,239.72 454.32,239.49 455.96,239.26 457.60,239.03 459.23,238.80 460.87,238.58 462.51,238.35 464.15,238.12 465.79,237.90 467.43,237.67 469.07,237.45 470.71,237.22 472.35,237.00 473.99,236.78 475.63,236.56 477.27,236.33 478.90,236.11 480.54,235.89 482.18,235.67 483.82,235.45 485.46,235.24 487.10,235.02 488.74,234.80 490.38,234.58 492.02,234.37 493.66,234.15 495.30,233.93 496.94,233.72 498.57,233.50 500.21,233.29 501.85,233.08 503.49,232.86 505.13,232.65 506.77,232.44 508.41,232.23 510.05,232.02 511.69,231.81 513.33,231.60 514.97,231.39 516.60,231.18 518.24,230.97 519.88,230.76" stroke="url(#rg)" stroke-width="1.1"/>
<polyline points="269.00,137.50 269.89,137.50 270.78,137.50 271.67,137.50 272.56,137.50 273.45,137.50 274.33,137.50 275.22,137.50 276.11,137.50 277.00,137.50 277.16,137.99 277.55,139.22 277.94,140.45 278.34,141.68 278.73,142.39 279.13,142.39 279.52,142.39 279.91,142.38 280.31,142.38 280.70,142.37 281.10,142.37 281.49,142.37 281.88,142.36 282.28,142.36 282.67,142.35 283.07,142.35 283.46,142.35 283.85,142.34 284.25,142.34 284.64,142.33 285.04,142.33 285.43,142.33 285.82,142.32 286.22,142.32 286.61,142.31 287.01,142.31 287.40,142.30 287.79,142.30 288.19,142.30 288.58,142.29 288.98,142.29 289.37,142.28 289.76,142.28 290.16,142.28 290.55,142.27 290.95,142.27 291.34,142.26 291.73,142.26 292.13,142.26 292.52,142.25 292.92,142.25 293.31,142.24 293.70,142.24 294.10,142.24 294.49,142.23 294.89,142.23 295.28,142.23 295.67,142.22 296.07,142.22 296.46,142.21 296.86,142.21 297.25,142.21 297.64,142.20 298.04,142.20 298.43,142.19 298.83,142.19 299.22,142.19 299.61,142.18 300.01,142.18 300.40,142.17 300.80,142.17 301.19,142.17 301.58,142.16 301.98,142.16 302.37,142.15 302.77,142.15 303.16,142.15 303.55,142.14 303.95,142.14 304.34,142.13 304.74,142.13 305.13,142.13 305.52,142.12 305.92,142.12 306.31,142.12 306.71,142.11 307.10,142.11 307.49,142.10 307.89,142.10 308.28,142.10 308.67,142.09 309.07,142.09 309.46,142.08 309.86,142.08 310.25,142.08 310.64,142.07 311.04,142.07 311.43,142.07 311.83,142.06 312.22,142.06 312.61,142.05 313.01,142.05 313.40,142.05 313.80,142.04 314.19,142.04 314.58,142.04 314.98,142.03 315.37,142.03 315.77,142.02 316.16,142.02 316.55,142.02 316.95,142.01 317.34,142.01 317.74,142.00 318.13,142.00 318.52,142.00 318.92,141.99 319.31,141.99 319.71,141.99 320.10,141.98 320.49,141.98 320.89,141.97 321.28,141.97 321.68,141.97 322.07,141.96 322.46,141.96 322.86,141.96 323.25,141.95 323.65,141.95 324.04,141.94 324.82,141.94 326.46,141.92 328.10,141.91 329.74,141.89 331.38,141.88 333.02,141.86 334.66,141.85 336.30,141.83 337.94,141.82 339.58,141.80 341.22,141.79 342.85,141.77 344.49,141.76 346.13,141.74 347.77,141.73 349.41,141.71 351.05,141.70 352.69,141.68 354.33,141.67 355.97,141.65 357.61,141.64 359.25,141.62 360.89,141.61 362.52,141.60 364.16,141.58 365.80,141.57 367.44,141.55 369.08,141.54 370.72,141.52 372.36,141.51 374.00,141.50 375.64,141.48 377.28,141.47 378.92,141.46 380.56,141.44 382.19,141.43 383.83,141.41 385.47,141.40 387.11,141.39 388.75,141.37 390.39,141.36 392.03,141.35 393.67,141.33 395.31,141.32 396.95,141.31 398.59,141.29 400.23,141.28 401.86,141.27 403.50,141.25 405.14,141.24 406.78,141.23 408.42,141.21 410.06,141.20 411.70,141.19 413.34,141.18 414.98,141.16 416.62,141.15 418.26,141.14 419.89,141.13 421.53,141.11 423.17,141.10 424.81,141.09 426.45,141.08 428.09,141.06 429.73,141.05 431.37,141.04 433.01,141.03 434.65,141.01 436.29,141.00 437.93,140.99 439.56,140.98 441.20,140.96 442.84,140.95 444.48,140.94 446.12,140.93 447.76,140.92 449.40,140.91 451.04,140.89 452.68,140.88 454.32,140.87 455.96,140.86 457.60,140.85 459.23,140.83 460.87,140.82 462.51,140.81 464.15,140.80 465.79,140.79 467.43,140.78 469.07,140.77 470.71,140.75 472.35,140.74 473.99,140.73 475.63,140.72 477.27,140.71 478.90,140.70 480.54,140.69 482.18,140.68 483.82,140.66 485.46,140.65 487.10,140.64 488.74,140.63 490.38,140.62 492.02,140.61 493.66,140.60 495.30,140.59 496.94,140.58 498.57,140.57 500.21,140.56 501.85,140.55 503.49,140.54 505.13,140.52 506.77,140.51 508.41,140.50 510.05,140.49 511.69,140.48 513.33,140.47 514.97,140.46 516.60,140.45 518.24,140.44 519.88,140.43" stroke="#2a7fb0" stroke-width="1.1"/>
<polyline points="269.00,137.50 269.89,137.50 270.78,137.50 271.67,137.50 272.56,137.50 273.45,137.50 274.33,137.50 275.22,137.50 276.11,137.50 277.00,137.50 277.16,137.88 277.55,138.84 277.94,139.79 278.34,140.36 278.73,140.35 279.13,140.35 279.52,140.35 279.91,140.35 280.31,140.34 280.70,140.34 281.10,140.34 281.49,140.34 281.88,140.33 282.28,140.33 282.67,140.33 283.07,140.33 283.46,140.32 283.85,140.32 284.25,140.32 284.64,140.32 285.04,140.31 285.43,140.31 285.82,140.31 286.22,140.31 286.61,140.31 287.01,140.30 287.40,140.30 287.79,140.30 288.19,140.30 288.58,140.29 288.98,140.29 289.37,140.29 289.76,140.29 290.16,140.28 290.55,140.28 290.95,140.28 291.34,140.28 291.73,140.27 292.13,140.27 292.52,140.27 292.92,140.27 293.31,140.27 293.70,140.26 294.10,140.26 294.49,140.26 294.89,140.26 295.28,140.25 295.67,140.25 296.07,140.25 296.46,140.25 296.86,140.24 297.25,140.24 297.64,140.24 298.04,140.24 298.43,140.24 298.83,140.23 299.22,140.23 299.61,140.23 300.01,140.23 300.40,140.22 300.80,140.22 301.19,140.22 301.58,140.22 301.98,140.22 302.37,140.21 302.77,140.21 303.16,140.21 303.55,140.21 303.95,140.20 304.34,140.20 304.74,140.20 305.13,140.20 305.52,140.19 305.92,140.19 306.31,140.19 306.71,140.19 307.10,140.19 307.49,140.18 307.89,140.18 308.28,140.18 308.67,140.18 309.07,140.17 309.46,140.17 309.86,140.17 310.25,140.17 310.64,140.17 311.04,140.16 311.43,140.16 311.83,140.16 312.22,140.16 312.61,140.15 313.01,140.15 313.40,140.15 313.80,140.15 314.19,140.15 314.58,140.14 314.98,140.14 315.37,140.14 315.77,140.14 316.16,140.13 316.55,140.13 316.95,140.13 317.34,140.13 317.74,140.13 318.13,140.12 318.52,140.12 318.92,140.12 319.31,140.12 319.71,140.11 320.10,140.11 320.49,140.11 320.89,140.11 321.28,140.11 321.68,140.10 322.07,140.10 322.46,140.10 322.86,140.10 323.25,140.10 323.65,140.09 324.04,140.09 324.82,140.09 326.46,140.08 328.10,140.07 329.74,140.06 331.38,140.05 333.02,140.04 334.66,140.03 336.30,140.02 337.94,140.02 339.58,140.01 341.22,140.00 342.85,139.99 344.49,139.98 346.13,139.97 347.77,139.96 349.41,139.95 351.05,139.95 352.69,139.94 354.33,139.93 355.97,139.92 357.61,139.91 359.25,139.90 360.89,139.90 362.52,139.89 364.16,139.88 365.80,139.87 367.44,139.86 369.08,139.85 370.72,139.85 372.36,139.84 374.00,139.83 375.64,139.82 377.28,139.81 378.92,139.81 380.56,139.80 382.19,139.79 383.83,139.78 385.47,139.77 387.11,139.77 388.75,139.76 390.39,139.75 392.03,139.74 393.67,139.73 395.31,139.73 396.95,139.72 398.59,139.71 400.23,139.70 401.86,139.70 403.50,139.69 405.14,139.68 406.78,139.67 408.42,139.67 410.06,139.66 411.70,139.65 413.34,139.64 414.98,139.64 416.62,139.63 418.26,139.62 419.89,139.61 421.53,139.61 423.17,139.60 424.81,139.59 426.45,139.58 428.09,139.58 429.73,139.57 431.37,139.56 433.01,139.55 434.65,139.55 436.29,139.54 437.93,139.53 439.56,139.53 441.20,139.52 442.84,139.51 444.48,139.51 446.12,139.50 447.76,139.49 449.40,139.48 451.04,139.48 452.68,139.47 454.32,139.46 455.96,139.46 457.60,139.45 459.23,139.44 460.87,139.44 462.51,139.43 464.15,139.42 465.79,139.42 467.43,139.41 469.07,139.40 470.71,139.40 472.35,139.39 473.99,139.38 475.63,139.38 477.27,139.37 478.90,139.36 480.54,139.36 482.18,139.35 483.82,139.34 485.46,139.34 487.10,139.33 488.74,139.33 490.38,139.32 492.02,139.31 493.66,139.31 495.30,139.30 496.94,139.29 498.57,139.29 500.21,139.28 501.85,139.28 503.49,139.27 505.13,139.26 506.77,139.26 508.41,139.25 510.05,139.24 511.69,139.24 513.33,139.23 514.97,139.23 516.60,139.22 518.24,139.21 519.88,139.21" stroke="#2aa880" stroke-width="1.1"/>
</g>
<path d="M277.00,111.1v3M277.00,277.2v2.6M316.20,111.1v3M316.20,277.2v2.6M355.40,111.1v3M355.40,277.2v2.6M394.60,111.1v3M394.60,277.2v2.6M433.80,111.1v3M433.80,277.2v2.6M473.00,111.1v3M473.00,277.2v2.6M512.20,111.1v3M512.20,277.2v2.6M296.60,111.1v1.8M296.60,277.2v1.6M335.80,111.1v1.8M335.80,277.2v1.6M375.00,111.1v1.8M375.00,277.2v1.6M414.20,111.1v1.8M414.20,277.2v1.6M453.40,111.1v1.8M453.40,277.2v1.6M492.60,111.1v1.8M492.60,277.2v1.6M269.1,137.50h-2.4M519.7,137.50h2.2M269.1,178.30h-2.4M519.7,178.30h2.2M269.1,219.10h-2.4M519.7,219.10h2.2M269.1,259.90h-2.4M519.7,259.90h2.2M269.1,117.10h-1.5M519.7,117.10h1.5M269.1,157.90h-1.5M519.7,157.90h1.5M269.1,198.70h-1.5M519.7,198.70h1.5M269.1,239.50h-1.5M519.7,239.50h1.5" fill="none" stroke="#505050" stroke-width="0.9"/>
<g class="tx" fill="#707070" stroke="#909090" stroke-width="0.25">
<text x="271.88" y="106.60" font-size="7.70" textLength="2.63" lengthAdjust="spacingAndGlyphs" style='font-family:"Liberation Serif", serif'>0</text><text x="274.40" y="106.60" font-size="7.70" textLength="1.77" lengthAdjust="spacingAndGlyphs" style='font-family:"Liberation Serif", serif'>.</text><text x="277.47" y="106.60" font-size="7.70" textLength="1.66" lengthAdjust="spacingAndGlyphs" style='font-family:"Liberation Serif", serif'>1</text><text x="279.74" y="106.60" font-size="7.70" textLength="2.63" lengthAdjust="spacingAndGlyphs" style='font-family:"Liberation Serif", serif'>0</text><text x="271.73" y="288.80" font-size="7.70" textLength="2.63" lengthAdjust="spacingAndGlyphs" style='font-family:"Liberation Serif", serif'>0</text><text x="274.25" y="288.80" font-size="7.70" textLength="1.77" lengthAdjust="spacingAndGlyphs" style='font-family:"Liberation Serif", serif'>.</text><text x="277.32" y="288.80" font-size="7.70" textLength="1.66" lengthAdjust="spacingAndGlyphs" style='font-family:"Liberation Serif", serif'>1</text><text x="279.59" y="288.80" font-size="7.70" textLength="2.63" lengthAdjust="spacingAndGlyphs" style='font-family:"Liberation Serif", serif'>0</text><text x="311.08" y="106.60" font-size="7.70" textLength="2.63" lengthAdjust="spacingAndGlyphs" style='font-family:"Liberation Serif", serif'>0</text><text x="313.60" y="106.60" font-size="7.70" textLength="1.77" lengthAdjust="spacingAndGlyphs" style='font-family:"Liberation Serif", serif'>.</text><text x="316.67" y="106.60" font-size="7.70" textLength="1.66" lengthAdjust="spacingAndGlyphs" style='font-family:"Liberation Serif", serif'>1</text><text x="318.82" y="106.60" font-size="7.70" textLength="2.77" lengthAdjust="spacingAndGlyphs" style='font-family:"Liberation Serif", serif'>5</text><text x="310.93" y="288.80" font-size="7.70" textLength="2.63" lengthAdjust="spacingAndGlyphs" style='font-family:"Liberation Serif", serif'>0</text><text x="313.45" y="288.80" font-size="7.70" textLength="1.77" lengthAdjust="spacingAndGlyphs" style='font-family:"Liberation Serif", serif'>.</text><text x="316.52" y="288.80" font-size="7.70" textLength="1.66" lengthAdjust="spacingAndGlyphs" style='font-family:"Liberation Serif", serif'>1</text><text x="318.67" y="288.80" font-size="7.70" textLength="2.77" lengthAdjust="spacingAndGlyphs" style='font-family:"Liberation Serif", serif'>5</text><text x="350.28" y="106.60" font-size="7.70" textLength="2.63" lengthAdjust="spacingAndGlyphs" style='font-family:"Liberation Serif", serif'>0</text><text x="352.80" y="106.60" font-size="7.70" textLength="1.77" lengthAdjust="spacingAndGlyphs" style='font-family:"Liberation Serif", serif'>.</text><text x="355.47" y="106.60" font-size="7.70" textLength="2.78" lengthAdjust="spacingAndGlyphs" style='font-family:"Liberation Serif", serif'>2</text><text x="358.14" y="106.60" font-size="7.70" textLength="2.63" lengthAdjust="spacingAndGlyphs" style='font-family:"Liberation Serif", serif'>0</text><text x="350.13" y="288.80" font-size="7.70" textLength="2.63" lengthAdjust="spacingAndGlyphs" style='font-family:"Liberation Serif", serif'>0</text><text x="352.65" y="288.80" font-size="7.70" textLength="1.77" lengthAdjust="spacingAndGlyphs" style='font-family:"Liberation Serif", serif'>.</text><text x="355.32" y="288.80" font-size="7.70" textLength="2.78" lengthAdjust="spacingAndGlyphs" style='font-family:"Liberation Serif", serif'>2</text><text x="357.99" y="288.80" font-size="7.70" textLength="2.63" lengthAdjust="spacingAndGlyphs" style='font-family:"Liberation Serif", serif'>0</text><text x="389.48" y="106.60" font-size="7.70" textLength="2.63" lengthAdjust="spacingAndGlyphs" style='font-family:"Liberation Serif", serif'>0</text><text x="392.00" y="106.60" font-size="7.70" textLength="1.77" lengthAdjust="spacingAndGlyphs" style='font-family:"Liberation Serif", serif'>.</text><text x="394.67" y="106.60" font-size="7.70" textLength="2.78" lengthAdjust="spacingAndGlyphs" style='font-family:"Liberation Serif", serif'>2</text><text x="397.22" y="106.60" font-size="7.70" textLength="2.77" lengthAdjust="spacingAndGlyphs" style='font-family:"Liberation Serif", serif'>5</text><text x="389.33" y="288.80" font-size="7.70" textLength="2.63" lengthAdjust="spacingAndGlyphs" style='font-family:"Liberation Serif", serif'>0</text><text x="391.85" y="288.80" font-size="7.70" textLength="1.77" lengthAdjust="spacingAndGlyphs" style='font-family:"Liberation Serif", serif'>.</text><text x="394.52" y="288.80" font-size="7.70" textLength="2.78" lengthAdjust="spacingAndGlyphs" style='font-family:"Liberation Serif", serif'>2</text><text x="397.07" y="288.80" font-size="7.70" textLength="2.77" lengthAdjust="spacingAndGlyphs" style='font-family:"Liberation Serif", serif'>5</text><text x="428.68" y="106.60" font-size="7.70" textLength="2.63" lengthAdjust="spacingAndGlyphs" style='font-family:"Liberation Serif", serif'>0</text><text x="431.20" y="106.60" font-size="7.70" textLength="1.77" lengthAdjust="spacingAndGlyphs" style='font-family:"Liberation Serif", serif'>.</text><text x="433.86" y="106.60" font-size="7.70" textLength="2.70" lengthAdjust="spacingAndGlyphs" style='font-family:"Liberation Serif", serif'>3</text><text x="436.54" y="106.60" font-size="7.70" textLength="2.63" lengthAdjust="spacingAndGlyphs" style='font-family:"Liberation Serif", serif'>0</text><text x="428.53" y="288.80" font-size="7.70" textLength="2.63" lengthAdjust="spacingAndGlyphs" style='font-family:"Liberation Serif", serif'>0</text><text x="431.05" y="288.80" font-size="7.70" textLength="1.77" lengthAdjust="spacingAndGlyphs" style='font-family:"Liberation Serif", serif'>.</text><text x="433.71" y="288.80" font-size="7.70" textLength="2.70" lengthAdjust="spacingAndGlyphs" style='font-family:"Liberation Serif", serif'>3</text><text x="436.39" y="288.80" font-size="7.70" textLength="2.63" lengthAdjust="spacingAndGlyphs" style='font-family:"Liberation Serif", serif'>0</text><text x="467.88" y="106.60" font-size="7.70" textLength="2.63" lengthAdjust="spacingAndGlyphs" style='font-family:"Liberation Serif", serif'>0</text><text x="470.40" y="106.60" font-size="7.70" textLength="1.77" lengthAdjust="spacingAndGlyphs" style='font-family:"Liberation Serif", serif'>.</text><text x="473.06" y="106.60" font-size="7.70" textLength="2.70" lengthAdjust="spacingAndGlyphs" style='font-family:"Liberation Serif", serif'>3</text><text x="475.62" y="106.60" font-size="7.70" textLength="2.77" lengthAdjust="spacingAndGlyphs" style='font-family:"Liberation Serif", serif'>5</text><text x="467.73" y="288.80" font-size="7.70" textLength="2.63" lengthAdjust="spacingAndGlyphs" style='font-family:"Liberation Serif", serif'>0</text><text x="470.25" y="288.80" font-size="7.70" textLength="1.77" lengthAdjust="spacingAndGlyphs" style='font-family:"Liberation Serif", serif'>.</text><text x="472.91" y="288.80" font-size="7.70" textLength="2.70" lengthAdjust="spacingAndGlyphs" style='font-family:"Liberation Serif", serif'>3</text><text x="475.47" y="288.80" font-size="7.70" textLength="2.77" lengthAdjust="spacingAndGlyphs" style='font-family:"Liberation Serif", serif'>5</text><text x="507.08" y="106.60" font-size="7.70" textLength="2.63" lengthAdjust="spacingAndGlyphs" style='font-family:"Liberation Serif", serif'>0</text><text x="509.60" y="106.60" font-size="7.70" textLength="1.77" lengthAdjust="spacingAndGlyphs" style='font-family:"Liberation Serif", serif'>.</text><text x="512.42" y="106.60" font-size="7.70" textLength="2.40" lengthAdjust="spacingAndGlyphs" style='font-family:"Liberation Serif", serif'>4</text><text x="514.94" y="106.60" font-size="7.70" textLength="2.63" lengthAdjust="spacingAndGlyphs" style='font-family:"Liberation Serif", serif'>0</text><text x="506.93" y="288.80" font-size="7.70" textLength="2.63" lengthAdjust="spacingAndGlyphs" style='font-family:"Liberation Serif", serif'>0</text><text x="509.45" y="288.80" font-size="7.70" textLength="1.77" lengthAdjust="spacingAndGlyphs" style='font-family:"Liberation Serif", serif'>.</text><text x="512.27" y="288.80" font-size="7.70" textLength="2.40" lengthAdjust="spacingAndGlyphs" style='font-family:"Liberation Serif", serif'>4</text><text x="514.79" y="288.80" font-size="7.70" textLength="2.63" lengthAdjust="spacingAndGlyphs" style='font-family:"Liberation Serif", serif'>0</text><text x="256.00" y="140.75" font-size="7.70" textLength="1.55" lengthAdjust="spacingAndGlyphs" style='font-family:"Liberation Serif", serif'>1</text><text x="258.03" y="140.75" font-size="7.70" textLength="1.65" lengthAdjust="spacingAndGlyphs" style='font-family:"Liberation Serif", serif'>.</text><text x="260.57" y="140.75" font-size="7.70" textLength="2.46" lengthAdjust="spacingAndGlyphs" style='font-family:"Liberation Serif", serif'>0</text><text x="263.02" y="140.75" font-size="7.70" textLength="2.46" lengthAdjust="spacingAndGlyphs" style='font-family:"Liberation Serif", serif'>0</text><text x="521.92" y="140.75" font-size="7.70" textLength="1.65" lengthAdjust="spacingAndGlyphs" style='font-family:"Liberation Serif", serif'>1</text><text x="524.07" y="140.75" font-size="7.70" textLength="1.76" lengthAdjust="spacingAndGlyphs" style='font-family:"Liberation Serif", serif'>.</text><text x="526.77" y="140.75" font-size="7.70" textLength="2.61" lengthAdjust="spacingAndGlyphs" style='font-family:"Liberation Serif", serif'>0</text><text x="529.37" y="140.75" font-size="7.70" textLength="2.61" lengthAdjust="spacingAndGlyphs" style='font-family:"Liberation Serif", serif'>0</text><text x="255.67" y="181.55" font-size="7.70" textLength="2.46" lengthAdjust="spacingAndGlyphs" style='font-family:"Liberation Serif", serif'>0</text><text x="258.03" y="181.55" font-size="7.70" textLength="1.65" lengthAdjust="spacingAndGlyphs" style='font-family:"Liberation Serif", serif'>.</text><text x="260.60" y="181.55" font-size="7.70" textLength="2.44" lengthAdjust="spacingAndGlyphs" style='font-family:"Liberation Serif", serif'>9</text><text x="262.91" y="181.55" font-size="7.70" textLength="2.59" lengthAdjust="spacingAndGlyphs" style='font-family:"Liberation Serif", serif'>5</text><text x="521.57" y="181.55" font-size="7.70" textLength="2.61" lengthAdjust="spacingAndGlyphs" style='font-family:"Liberation Serif", serif'>0</text><text x="524.07" y="181.55" font-size="7.70" textLength="1.76" lengthAdjust="spacingAndGlyphs" style='font-family:"Liberation Serif", serif'>.</text><text x="526.80" y="181.55" font-size="7.70" textLength="2.59" lengthAdjust="spacingAndGlyphs" style='font-family:"Liberation Serif", serif'>9</text><text x="529.25" y="181.55" font-size="7.70" textLength="2.75" lengthAdjust="spacingAndGlyphs" style='font-family:"Liberation Serif", serif'>5</text><text x="255.67" y="222.35" font-size="7.70" textLength="2.46" lengthAdjust="spacingAndGlyphs" style='font-family:"Liberation Serif", serif'>0</text><text x="258.03" y="222.35" font-size="7.70" textLength="1.65" lengthAdjust="spacingAndGlyphs" style='font-family:"Liberation Serif", serif'>.</text><text x="260.60" y="222.35" font-size="7.70" textLength="2.44" lengthAdjust="spacingAndGlyphs" style='font-family:"Liberation Serif", serif'>9</text><text x="263.02" y="222.35" font-size="7.70" textLength="2.46" lengthAdjust="spacingAndGlyphs" style='font-family:"Liberation Serif", serif'>0</text><text x="521.57" y="222.35" font-size="7.70" textLength="2.61" lengthAdjust="spacingAndGlyphs" style='font-family:"Liberation Serif", serif'>0</text><text x="524.07" y="222.35" font-size="7.70" textLength="1.76" lengthAdjust="spacingAndGlyphs" style='font-family:"Liberation Serif", serif'>.</text><text x="526.80" y="222.35" font-size="7.70" textLength="2.59" lengthAdjust="spacingAndGlyphs" style='font-family:"Liberation Serif", serif'>9</text><text x="529.37" y="222.35" font-size="7.70" textLength="2.61" lengthAdjust="spacingAndGlyphs" style='font-family:"Liberation Serif", serif'>0</text><text x="255.67" y="263.15" font-size="7.70" textLength="2.46" lengthAdjust="spacingAndGlyphs" style='font-family:"Liberation Serif", serif'>0</text><text x="258.03" y="263.15" font-size="7.70" textLength="1.65" lengthAdjust="spacingAndGlyphs" style='font-family:"Liberation Serif", serif'>.</text><text x="260.57" y="263.15" font-size="7.70" textLength="2.46" lengthAdjust="spacingAndGlyphs" style='font-family:"Liberation Serif", serif'>8</text><text x="262.91" y="263.15" font-size="7.70" textLength="2.59" lengthAdjust="spacingAndGlyphs" style='font-family:"Liberation Serif", serif'>5</text><text x="521.57" y="263.15" font-size="7.70" textLength="2.61" lengthAdjust="spacingAndGlyphs" style='font-family:"Liberation Serif", serif'>0</text><text x="524.07" y="263.15" font-size="7.70" textLength="1.76" lengthAdjust="spacingAndGlyphs" style='font-family:"Liberation Serif", serif'>.</text><text x="526.77" y="263.15" font-size="7.70" textLength="2.61" lengthAdjust="spacingAndGlyphs" style='font-family:"Liberation Serif", serif'>8</text><text x="529.25" y="263.15" font-size="7.70" textLength="2.75" lengthAdjust="spacingAndGlyphs" style='font-family:"Liberation Serif", serif'>5</text>
</g>
</svg>
</body></html>
